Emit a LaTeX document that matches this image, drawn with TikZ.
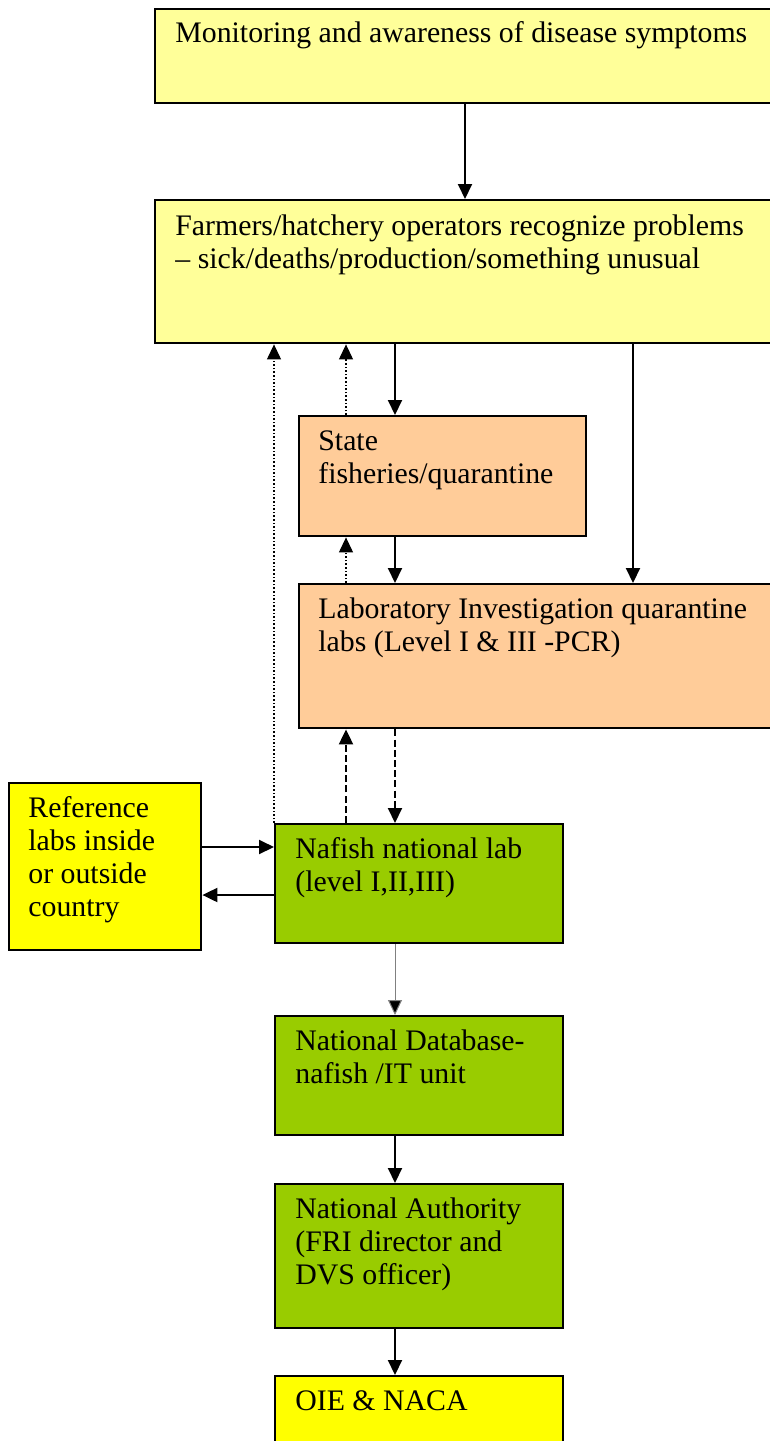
\documentclass[tikz,border=0pt]{standalone}
\usepackage{fontspec}
\setmainfont{Liberation Serif}
\usetikzlibrary{arrows.meta,calc}
\definecolor{paleyellow}{HTML}{FFFF99}
\definecolor{peach}{HTML}{FFCC99}
\definecolor{leaf}{HTML}{99CC00}
\definecolor{brightyellow}{HTML}{FFFF00}
% left-aligned lines whose first baseline is the node's base
\newcommand{\stackedlines}[1]{\begin{tabular}[t]{@{}l@{}}#1\end{tabular}}
\tikzset{
  box/.style={draw=black, line width=1.2pt, anchor=north west, inner sep=0pt},
  txt/.style={anchor=base west, inner sep=0pt,
    font=\fontsize{14.9}{16.5}\selectfont},
  flow/.style={line width=1pt, -{Triangle[length=7.5pt,width=7pt]}},
  faint/.style={line width=0.5pt, draw=gray, -{Triangle[length=7.5pt,width=7pt,fill=black]}},
  dotline/.style={line width=0.6pt, dash pattern=on 0.8pt off 1pt, -{Triangle[length=7.5pt,width=7pt]}},
  dashline/.style={line width=1pt, dash pattern=on 3.5pt off 1.6pt, -{Triangle[length=7.5pt,width=7pt]}},
}
\begin{document}
\begin{tikzpicture}[x=0.5pt,y=-0.5pt]
\useasboundingbox (0,0) rectangle (770,1441);
\clip (0,0) rectangle (770,1441);
\fill[white] (0,0) rectangle (770,1441);

% boxes
\node[box, fill=paleyellow, minimum width=316pt, minimum height=47pt] (mon) at (154,8) {};
\node[box, fill=paleyellow, minimum width=316pt, minimum height=71.5pt] (farm) at (154,199) {};
\node[box, fill=peach, minimum width=143.5pt, minimum height=60pt] (state) at (298,415) {};
\node[box, fill=peach, minimum width=244pt, minimum height=72pt] (lab) at (298,583) {};
\node[box, fill=brightyellow, minimum width=96pt, minimum height=83.5pt] (ref) at (8,782) {};
\node[box, fill=leaf, minimum width=144pt, minimum height=59.5pt] (nafish) at (274,823) {};
\node[box, fill=leaf, minimum width=144pt, minimum height=59.5pt] (db) at (274,1015) {};
\node[box, fill=leaf, minimum width=144pt, minimum height=72pt] (auth) at (274,1183) {};
\node[box, fill=brightyellow, minimum width=144pt, minimum height=50pt] (oie) at (274,1375) {};

% texts
\node[txt] (tmon) at (175,42) {Monitoring and awareness of disease symptoms};
\node[txt] (tfarm) at (175,235) {\stackedlines{Farmers/hatchery operators recognize problems\\– sick/deaths/production/something unusual}};
\node[txt] (tstate) at (318,450) {\stackedlines{State\\fisheries/quarantine}};
\node[txt] (tlab) at (318,618) {\stackedlines{Laboratory Investigation quarantine\\labs (Level I \& III -PCR)}};
\node[txt] (tref) at (28,817) {\stackedlines{Reference\\labs inside\\or outside\\country}};
\node[txt] (tnaf) at (295,858) {\stackedlines{Nafish national lab\\(level I,II,III)}};
\node[txt] (tdb) at (295,1050) {\stackedlines{National Database-\\nafish /IT unit}};
\node[txt] (tauth) at (295,1218) {\stackedlines{National Authority\\(FRI director and\\DVS officer)}};
\node[txt] (toie) at (295,1410) {OIE \& NACA};

% solid flow
\draw[flow] (mon.south -| 465,0) -- (farm.north -| 465,0);
\draw[flow] (farm.south -| 395,0) -- (state.north -| 395,0);
\draw[flow] (farm.south -| 633,0) -- (lab.north -| 633,0);
\draw[flow] (state.south -| 395,0) -- (lab.north -| 395,0);
\draw[flow] (ref.east |- 0,847) -- (nafish.west |- 0,847);
\draw[flow] (nafish.west |- 0,895) -- (ref.east |- 0,895);
\draw[faint] (nafish.south -| 395,0) -- (db.north -| 395,0);
\draw[flow] (db.south -| 395,0) -- (auth.north -| 395,0);
\draw[flow] (auth.south -| 395,0) -- (oie.north -| 395,0);

% feedback
\draw[dotline] (state.north -| 346,0) -- (farm.south -| 346,0);
\draw[dotline] (lab.north -| 346,0) -- (state.south -| 346,0);
\draw[dotline] (nafish.north west) -- (farm.south -| nafish.west);
\draw[dashline] (nafish.north -| 346,0) -- (lab.south -| 346,0);
\draw[dashline] (lab.south -| 395,0) -- (nafish.north -| 395,0);
\end{tikzpicture}
\end{document}
